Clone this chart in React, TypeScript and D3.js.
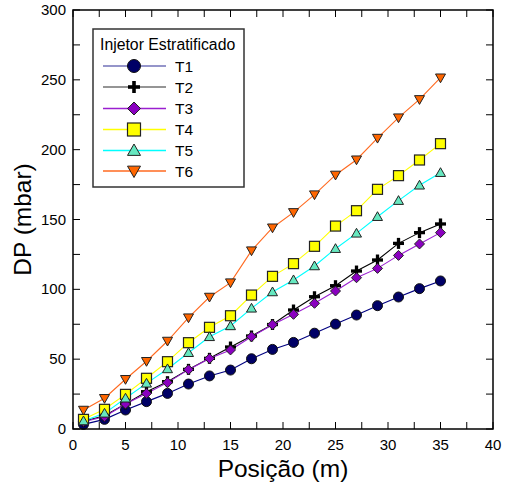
import React from "react";
import * as d3 from "d3";

const positions = [1, 3, 5, 7, 9, 11, 13, 15, 17, 19, 21, 23, 25, 27, 29, 31, 33, 35];
const seriesNames = ["T1", "T2", "T3", "T4", "T5", "T6"];
const t1 = [3.3, 6.9, 13.6, 19.6, 25.5, 32.2, 38, 42.2, 50.3, 57, 62, 68.6, 75.1, 81.6, 88.3, 94.5, 100.5, 106];
const t2 = [5.5, 9.5, 18, 26.7, 33.9, 42.7, 50.6, 58.7, 66.6, 74.8, 85.2, 94.7, 102.6, 113.1, 121, 132.9, 140.6, 146.8];
const t3 = [5.2, 8.8, 17.9, 25.5, 33.2, 42.5, 50.4, 56.6, 66.1, 74.7, 82.1, 90, 98.8, 108.3, 115, 124.3, 132.5, 140.6];
const t4 = [6.9, 14.1, 24.8, 36.3, 48.2, 61.8, 72.8, 81.1, 95.9, 109.3, 118.4, 130.8, 145.3, 156.3, 171.6, 181.4, 192.6, 204.3];
const t5 = [5.7, 11.2, 22, 32.7, 43, 54.6, 66, 73.8, 86.4, 98.1, 106.7, 116.7, 129.1, 140.1, 152, 163.5, 174.5, 183.5];
const t6 = [13.6, 22, 35.6, 48.5, 63, 79.7, 94.5, 104.8, 127.7, 144.1, 155.1, 167.8, 181.9, 192.8, 208.3, 222.9, 236, 251.5];
const xTicks = [0, 5, 10, 15, 20, 25, 30, 35, 40];
const yTicks = [0, 50, 100, 150, 200, 250, 300];
const legendTitle = "Injetor Estratificado";
const xTitle = "Posição (m)";
const yTitle = "DP (mbar)";

const allValues = [t1, t2, t3, t4, t5, t6];
const lineColors = ["#000080", "#000000", "#9a1fd0", "#ffff00", "#00ffff", "#ff6a20"];
const fillColors = ["#000066", "#000000", "#8a00c0", "#ffff00", "#66e8c0", "#ff6600"];
const shapes = ["circle", "plus", "diamond", "square", "triUp", "triDown"];

const L = 73, R = 493, T = 10, B = 429;
const x = d3.scaleLinear().domain([0, 40]).range([L, R]);
const y = d3.scaleLinear().domain([0, 300]).range([B, T]);

function Marker({ shape, cx, cy, s, fill }: { shape: string; cx: number; cy: number; s: number; fill: string }) {
  const h = s / 2;
  const stroke = "#222";
  if (shape === "circle") return <circle cx={cx} cy={cy} r={h} fill={fill} stroke="#111" strokeWidth={1} />;
  if (shape === "square") return <rect x={cx - h} y={cy - h} width={s} height={s} fill={fill} stroke={stroke} strokeWidth={1.2} />;
  if (shape === "diamond")
    return <path d={`M${cx},${cy - h}L${cx + h},${cy}L${cx},${cy + h}L${cx - h},${cy}Z`} fill={fill} stroke={stroke} strokeWidth={1} />;
  if (shape === "triUp")
    return <path d={`M${cx},${cy - h}L${cx + h},${cy + h * 0.75}L${cx - h},${cy + h * 0.75}Z`} fill={fill} stroke={stroke} strokeWidth={1} />;
  if (shape === "triDown")
    return <path d={`M${cx},${cy + h}L${cx + h},${cy - h * 0.75}L${cx - h},${cy - h * 0.75}Z`} fill={fill} stroke={stroke} strokeWidth={1} />;
  // plus
  return (
    <g stroke="#000" strokeWidth={s * 0.3}>
      <line x1={cx - h} x2={cx + h} y1={cy} y2={cy} />
      <line x1={cx} x2={cx} y1={cy - h} y2={cy + h} />
    </g>
  );
}

export default function App() {
  const line = d3
    .line<number>()
    .x((_, i) => x(positions[i]))
    .y((v) => y(v));
  const xMinor = d3.range(0, 40.01, 2.5);
  const yMinor = d3.range(0, 300.01, 25);
  const font = "'Liberation Sans', Arial, sans-serif";
  const tick = 7;
  const legX = 93, legY = 29, legW = 151, legH = 158;
  const rowY = [66, 87, 108.5, 129.5, 150.5, 171];
  return (
    <svg width={505} height={485} style={{ position: "absolute", left: 0, top: 0 }} fontFamily={font}>
      <rect width={505} height={485} fill="#fff" />
      {/* series */}
      {allValues.map((vals, si) => (
        <path key={"l" + si} d={line(vals) || ""} fill="none" stroke={lineColors[si]} strokeWidth={1.1} />
      ))}
      {allValues.map((vals, si) =>
        vals.map((v, i) => (
          <Marker key={si + "-" + i} shape={shapes[si]} cx={x(positions[i])} cy={y(v)} s={si === 1 ? 11 : 10} fill={fillColors[si]} />
        ))
      )}
      {/* ticks */}
      <g stroke="#000" strokeWidth={1}>
        {xMinor.map((t) => (
          <g key={"xt" + t}>
            <line x1={x(t)} x2={x(t)} y1={B} y2={B - tick} />
            <line x1={x(t)} x2={x(t)} y1={T} y2={T + tick} />
          </g>
        ))}
        {yMinor.map((t) => (
          <g key={"yt" + t}>
            <line x1={L} x2={L + tick} y1={y(t)} y2={y(t)} />
            <line x1={R} x2={R - tick} y1={y(t)} y2={y(t)} />
          </g>
        ))}
      </g>
      <rect x={L} y={T} width={R - L} height={B - T} fill="none" stroke="#000" strokeWidth={1.5} />
      {/* tick labels */}
      {xTicks.map((t) => (
        <text key={"xl" + t} x={x(t)} y={450} fontSize={15} textAnchor="middle">
          {t}
        </text>
      ))}
      {yTicks.map((t) => (
        <text key={"yl" + t} x={66} y={y(t) + 5} fontSize={15} textAnchor="end">
          {t}
        </text>
      ))}
      <text x={(L + R) / 2} y={477} fontSize={24.5} textAnchor="middle">
        {xTitle}
      </text>
      <text transform={`translate(31,${(T + B) / 2}) rotate(-90)`} fontSize={24.5} textAnchor="middle">
        {yTitle}
      </text>
      {/* legend */}
      <rect x={legX} y={legY} width={legW} height={legH} fill="#fff" stroke="#333" strokeWidth={1.5} />
      <text x={100} y={50} fontSize={15.8}>
        {legendTitle}
      </text>
      {seriesNames.map((n, si) => (
        <g key={"lg" + si}>
          <line x1={103} x2={166} y1={rowY[si]} y2={rowY[si]} stroke={lineColors[si]} strokeWidth={1.3} opacity={si < 2 ? 0.55 : 1} />
          <Marker shape={shapes[si]} cx={134} cy={rowY[si]} s={si === 1 ? 12 : 13} fill={fillColors[si]} />
          <text x={175} y={rowY[si] + 5.5} fontSize={15.5}>
            {n}
          </text>
        </g>
      ))}
    </svg>
  );
}
